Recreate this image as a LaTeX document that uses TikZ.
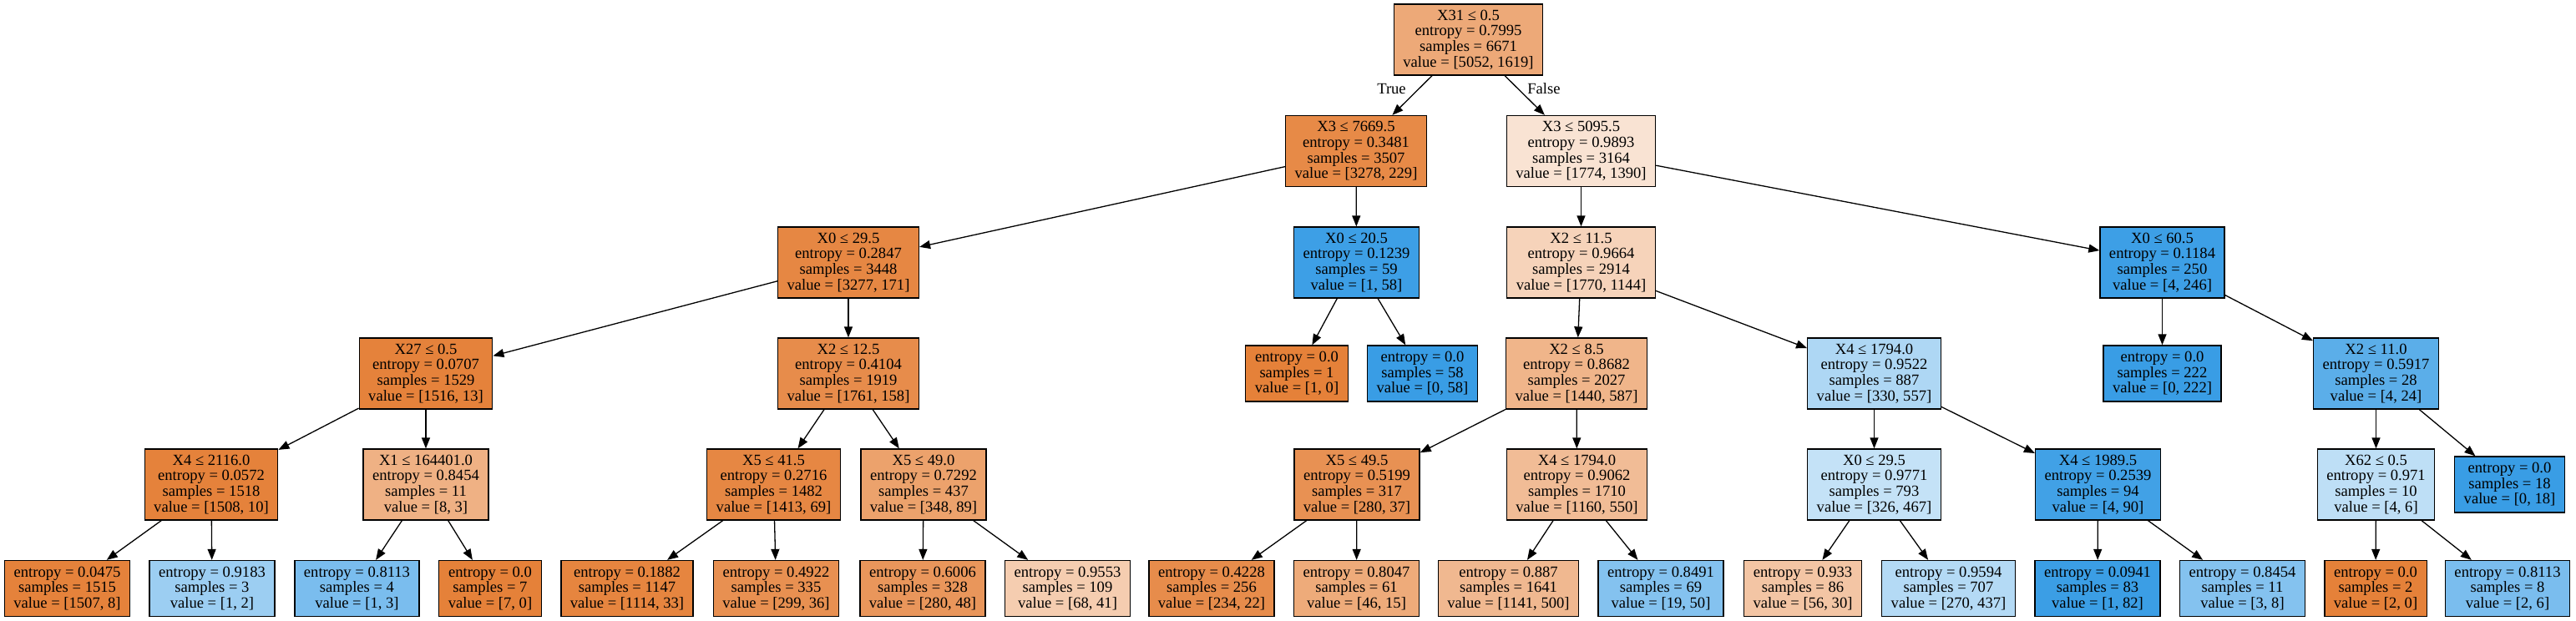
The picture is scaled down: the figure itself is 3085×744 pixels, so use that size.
\documentclass[tikz,border=0pt]{standalone}
\usepackage{fontspec}
\setmainfont{Liberation Serif}
\usepackage{tikz}
\usetikzlibrary{arrows.meta}

\definecolor{Orange}{RGB}{229,129,57}
\definecolor{Blue}{RGB}{57,157,229}

\begin{document}
\begin{tikzpicture}[x=0.5pt, y=-0.5pt]
	\tikzstyle{Box}		= [rectangle, draw=black, line width=0.65pt, align=center, inner xsep=5.5pt, inner ysep=2pt, font=\fontsize{9.3}{9.3}\selectfont]
	\tikzstyle{Split}	= [Box, minimum height=42.5pt]
	\tikzstyle{Leaf}	= [Box, minimum height=33.5pt]
	\tikzstyle{Edge}	= [black, line width=0.65pt, -{Triangle[length=6.5pt, width=5pt]}]
	\tikzstyle{Side}	= [font=\fontsize{9.3}{9.3}\selectfont]

	\useasboundingbox (0, 0) rectangle (3085, 744);

	% root
	\node (n0) at (1758.5, 47.5) [Split][fill=Orange!68] {X31 ≤ 0.5\\entropy = 0.7995\\samples = 6671\\value = [5052, 1619]};
	\node (t) at (1666.5, 106) [Side] {True};
	\node (f) at (1849, 106) [Side] {False};

	% depth 1
	\node (n1) at (1624, 181) [Split][fill=Orange!93] {X3 ≤ 7669.5\\entropy = 0.3481\\samples = 3507\\value = [3278, 229]};
	\node (n20) at (1893.5, 181) [Split][fill=Orange!22] {X3 ≤ 5095.5\\entropy = 0.9893\\samples = 3164\\value = [1774, 1390]};

	% depth 2
	\node (n2) at (1016, 314.5) [Split][fill=Orange!95] {X0 ≤ 29.5\\entropy = 0.2847\\samples = 3448\\value = [3277, 171]};
	\node (n17) at (1624.5, 314.5) [Split][fill=Blue!98] {X0 ≤ 20.5\\entropy = 0.1239\\samples = 59\\value = [1, 58]};
	\node (n21) at (1893.5, 314.5) [Split][fill=Orange!35] {X2 ≤ 11.5\\entropy = 0.9664\\samples = 2914\\value = [1770, 1144]};
	\node (n36) at (2589.5, 314.5) [Split][fill=Blue!98] {X0 ≤ 60.5\\entropy = 0.1184\\samples = 250\\value = [4, 246]};

	% depth 3
	\node (n3) at (510, 447.5) [Split][fill=Orange!99] {X27 ≤ 0.5\\entropy = 0.0707\\samples = 1529\\value = [1516, 13]};
	\node (n10) at (1016, 447.5) [Split][fill=Orange!91] {X2 ≤ 12.5\\entropy = 0.4104\\samples = 1919\\value = [1761, 158]};
	\node (n18) at (1553, 447.5) [Leaf][fill=Orange] {entropy = 0.0\\samples = 1\\value = [1, 0]};
	\node (n19) at (1703.5, 447.5) [Leaf][fill=Blue] {entropy = 0.0\\samples = 58\\value = [0, 58]};
	\node (n22) at (1888, 447.5) [Split][fill=Orange!59] {X2 ≤ 8.5\\entropy = 0.8682\\samples = 2027\\value = [1440, 587]};
	\node (n29) at (2244.5, 447.5) [Split][fill=Blue!41] {X4 ≤ 1794.0\\entropy = 0.9522\\samples = 887\\value = [330, 557]};
	\node (n37) at (2589.5, 447.5) [Leaf][fill=Blue] {entropy = 0.0\\samples = 222\\value = [0, 222]};
	\node (n38) at (2845.5, 447.5) [Split][fill=Blue!83] {X2 ≤ 11.0\\entropy = 0.5917\\samples = 28\\value = [4, 24]};

	% depth 4
	\node (n4) at (253, 580.5) [Split][fill=Orange!99] {X4 ≤ 2116.0\\entropy = 0.0572\\samples = 1518\\value = [1508, 10]};
	\node (n7) at (510, 580.5) [Split][fill=Orange!62] {X1 ≤ 164401.0\\entropy = 0.8454\\samples = 11\\value = [8, 3]};
	\node (n11) at (926.5, 580.5) [Split][fill=Orange!95] {X5 ≤ 41.5\\entropy = 0.2716\\samples = 1482\\value = [1413, 69]};
	\node (n14) at (1106, 580.5) [Split][fill=Orange!74] {X5 ≤ 49.0\\entropy = 0.7292\\samples = 437\\value = [348, 89]};
	\node (n23) at (1625, 580.5) [Split][fill=Orange!87] {X5 ≤ 49.5\\entropy = 0.5199\\samples = 317\\value = [280, 37]};
	\node (n26) at (1888.5, 580.5) [Split][fill=Orange!53] {X4 ≤ 1794.0\\entropy = 0.9062\\samples = 1710\\value = [1160, 550]};
	\node (n30) at (2244.5, 580.5) [Split][fill=Blue!30] {X0 ≤ 29.5\\entropy = 0.9771\\samples = 793\\value = [326, 467]};
	\node (n33) at (2512.5, 580.5) [Split][fill=Blue!96] {X4 ≤ 1989.5\\entropy = 0.2539\\samples = 94\\value = [4, 90]};
	\node (n39) at (2845.5, 580.5) [Split][fill=Blue!33] {X62 ≤ 0.5\\entropy = 0.971\\samples = 10\\value = [4, 6]};
	\node (n42) at (3005.5, 580.5) [Leaf][fill=Blue] {entropy = 0.0\\samples = 18\\value = [0, 18]};

	% depth 5
	\node (n5) at (80.5, 705) [Leaf][fill=Orange!99] {entropy = 0.0475\\samples = 1515\\value = [1507, 8]};
	\node (n6) at (254, 705) [Leaf][fill=Blue!50] {entropy = 0.9183\\samples = 3\\value = [1, 2]};
	\node (n8) at (427.5, 705) [Leaf][fill=Blue!67] {entropy = 0.8113\\samples = 4\\value = [1, 3]};
	\node (n9) at (587, 705) [Leaf][fill=Orange] {entropy = 0.0\\samples = 7\\value = [7, 0]};
	\node (n12) at (751, 705) [Leaf][fill=Orange!97] {entropy = 0.1882\\samples = 1147\\value = [1114, 33]};
	\node (n13) at (929.5, 705) [Leaf][fill=Orange!88] {entropy = 0.4922\\samples = 335\\value = [299, 36]};
	\node (n15) at (1105, 705) [Leaf][fill=Orange!83] {entropy = 0.6006\\samples = 328\\value = [280, 48]};
	\node (n16) at (1278.5, 705) [Leaf][fill=Orange!40] {entropy = 0.9553\\samples = 109\\value = [68, 41]};
	\node (n24) at (1451, 705) [Leaf][fill=Orange!91] {entropy = 0.4228\\samples = 256\\value = [234, 22]};
	\node (n25) at (1624.5, 705) [Leaf][fill=Orange!67] {entropy = 0.8047\\samples = 61\\value = [46, 15]};
	\node (n27) at (1806.5, 705) [Leaf][fill=Orange!56] {entropy = 0.887\\samples = 1641\\value = [1141, 500]};
	\node (n28) at (1989, 705) [Leaf][fill=Blue!62] {entropy = 0.8491\\samples = 69\\value = [19, 50]};
	\node (n31) at (2159, 705) [Leaf][fill=Orange!46] {entropy = 0.933\\samples = 86\\value = [56, 30]};
	\node (n32) at (2333.5, 705) [Leaf][fill=Blue!38] {entropy = 0.9594\\samples = 707\\value = [270, 437]};
	\node (n34) at (2512, 705) [Leaf][fill=Blue!99] {entropy = 0.0941\\samples = 83\\value = [1, 82]};
	\node (n35) at (2685.5, 705) [Leaf][fill=Blue!62] {entropy = 0.8454\\samples = 11\\value = [3, 8]};
	\node (n40) at (2845, 705) [Leaf][fill=Orange] {entropy = 0.0\\samples = 2\\value = [2, 0]};
	\node (n41) at (3003, 705) [Leaf][fill=Blue!67] {entropy = 0.8113\\samples = 8\\value = [2, 6]};

	% edges
	\draw (n0) to (n1) [Edge];
	\draw (n0) to (n20) [Edge];
	\draw (n1) to (n2) [Edge];
	\draw (n1) to (n17) [Edge];
	\draw (n2) to (n3) [Edge];
	\draw (n2) to (n10) [Edge];
	\draw (n3) to (n4) [Edge];
	\draw (n3) to (n7) [Edge];
	\draw (n4) to (n5) [Edge];
	\draw (n4) to (n6) [Edge];
	\draw (n7) to (n8) [Edge];
	\draw (n7) to (n9) [Edge];
	\draw (n10) to (n11) [Edge];
	\draw (n10) to (n14) [Edge];
	\draw (n11) to (n12) [Edge];
	\draw (n11) to (n13) [Edge];
	\draw (n14) to (n15) [Edge];
	\draw (n14) to (n16) [Edge];
	\draw (n17) to (n18) [Edge];
	\draw (n17) to (n19) [Edge];
	\draw (n20) to (n21) [Edge];
	\draw (n20) to (n36) [Edge];
	\draw (n21) to (n22) [Edge];
	\draw (n21) to (n29) [Edge];
	\draw (n22) to (n23) [Edge];
	\draw (n22) to (n26) [Edge];
	\draw (n23) to (n24) [Edge];
	\draw (n23) to (n25) [Edge];
	\draw (n26) to (n27) [Edge];
	\draw (n26) to (n28) [Edge];
	\draw (n29) to (n30) [Edge];
	\draw (n29) to (n33) [Edge];
	\draw (n30) to (n31) [Edge];
	\draw (n30) to (n32) [Edge];
	\draw (n33) to (n34) [Edge];
	\draw (n33) to (n35) [Edge];
	\draw (n36) to (n37) [Edge];
	\draw (n36) to (n38) [Edge];
	\draw (n38) to (n39) [Edge];
	\draw (n38) to (n42) [Edge];
	\draw (n39) to (n40) [Edge];
	\draw (n39) to (n41) [Edge];
\end{tikzpicture}
\end{document}
